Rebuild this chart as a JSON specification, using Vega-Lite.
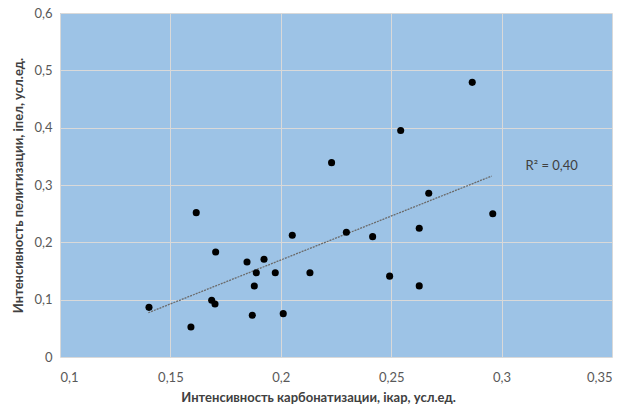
{
  "$schema": "https://vega.github.io/schema/vega-lite/v6.json",
  "width": 552,
  "height": 344,
  "autosize": {"type": "none"},
  "padding": {"left": 60, "top": 13, "right": 16, "bottom": 52},
  "background": "white",
  "config": {
    "view": {"fill": "#9DC3E6", "stroke": null},
    "font": "Lato",
    "axis": {
      "gridColor": "#d9d9d9",
      "gridWidth": 1,
      "domain": false,
      "ticks": false,
      "labelFont": "Lato",
      "labelFontSize": 13,
      "labelColor": "#595959",
      "titleFont": "Lato",
      "titleFontSize": 13,
      "titleFontWeight": "bold",
      "titleColor": "#404040"
    }
  },
  "data": {
    "values": [
      {"x": 0.1403, "y": 0.0866},
      {"x": 0.1593, "y": 0.0523},
      {"x": 0.1617, "y": 0.2518},
      {"x": 0.1705, "y": 0.1832},
      {"x": 0.1687, "y": 0.0989},
      {"x": 0.1702, "y": 0.0924},
      {"x": 0.1847, "y": 0.1657},
      {"x": 0.1924, "y": 0.1704},
      {"x": 0.1889, "y": 0.147},
      {"x": 0.1975, "y": 0.147},
      {"x": 0.188, "y": 0.1238},
      {"x": 0.1871, "y": 0.0727},
      {"x": 0.2011, "y": 0.0756},
      {"x": 0.2052, "y": 0.2123},
      {"x": 0.2132, "y": 0.147},
      {"x": 0.2297, "y": 0.2175},
      {"x": 0.2416, "y": 0.2099},
      {"x": 0.2627, "y": 0.2245},
      {"x": 0.296, "y": 0.25},
      {"x": 0.2493, "y": 0.141},
      {"x": 0.2627, "y": 0.124},
      {"x": 0.2867, "y": 0.479},
      {"x": 0.2543, "y": 0.395},
      {"x": 0.223, "y": 0.339},
      {"x": 0.267, "y": 0.2855}
    ]
  },
  "layer": [
    {
      "transform": [{"regression": "y", "on": "x", "extent": [0.14, 0.2955]}],
      "mark": {"type": "line", "color": "#6b6b6b", "strokeWidth": 1.3, "strokeDash": [2, 1]},
      "encoding": {
        "x": {"field": "x", "type": "quantitative"},
        "y": {"field": "y", "type": "quantitative"}
      }
    },
    {
      "mark": {"type": "circle", "color": "black", "opacity": 1, "size": 50},
      "encoding": {
        "x": {
          "field": "x",
          "type": "quantitative",
          "scale": {"domain": [0.1, 0.35], "nice": false, "zero": false},
          "axis": {
            "values": [0.1, 0.15, 0.2, 0.25, 0.3, 0.35],
            "format": ".2~f",
            "labelExpr": "replace(datum.label, '.', ',')",
            "labelPadding": 14,
            "title": "Интенсивность карбонатизации, ікар, усл.ед.",
            "titleX": 258,
            "titleAlign": "center",
            "titlePadding": 7
          }
        },
        "y": {
          "field": "y",
          "type": "quantitative",
          "scale": {"domain": [0, 0.6], "nice": false},
          "axis": {
            "values": [0, 0.1, 0.2, 0.3, 0.4, 0.5, 0.6],
            "format": ".1~f",
            "labelExpr": "replace(datum.label, '.', ',')",
            "labelPadding": 8,
            "title": "Интенсивность пелитизации, іпел, усл.ед.",
            "titlePadding": 8
          }
        }
      }
    },
    {
      "data": {"values": [{"x": 0.3227, "y": 0.333, "label": "R² = 0,40"}]},
      "mark": {"type": "text", "font": "Lato", "fontSize": 13, "color": "#404040"},
      "encoding": {
        "x": {"field": "x", "type": "quantitative"},
        "y": {"field": "y", "type": "quantitative"},
        "text": {"field": "label"}
      }
    }
  ]
}
